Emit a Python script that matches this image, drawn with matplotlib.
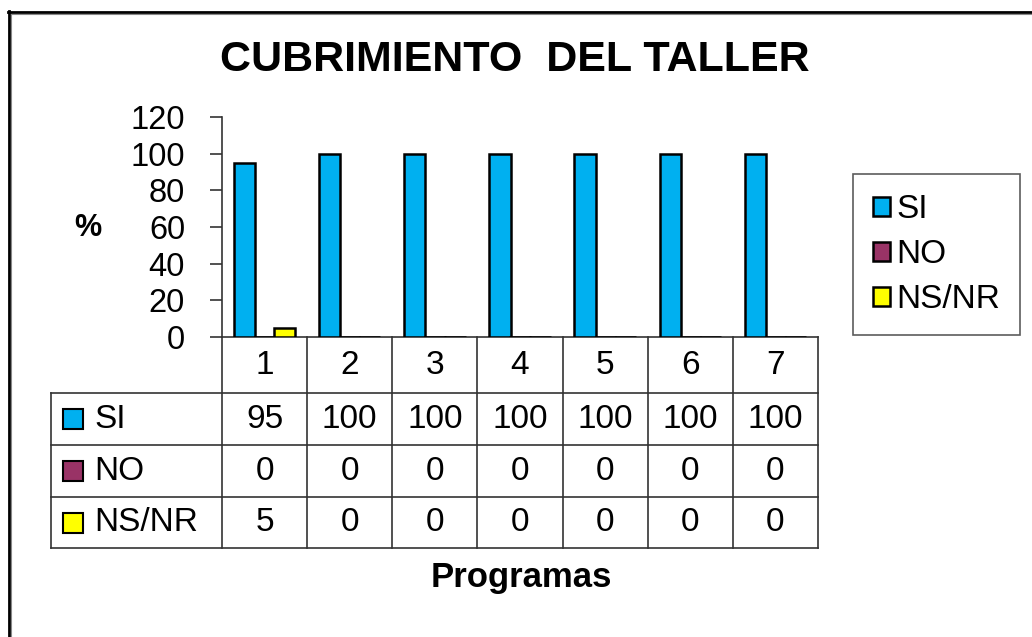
# %% import
import matplotlib.pyplot as plt
import numpy as np

plt.rcParams["font.family"] = ["Liberation Sans", "DejaVu Sans"]

# %% data
programas = ["1", "2", "3", "4", "5", "6", "7"]
series_names = ["SI", "NO", "NS/NR"]
si = [95, 100, 100, 100, 100, 100, 100]
no = [0, 0, 0, 0, 0, 0, 0]
nsnr = [5, 0, 0, 0, 0, 0, 0]
colores = ["#00B0F0", "#993366", "#FFFF00"]

# %% layout (pixels)
W, H = 1032, 637
ax_l, ax_r, ax_t, ax_b = 222, 818, 117, 337
tab_l = 51
row_edges = [337, 393, 445, 497, 548]
edge = "#333333"

fig = plt.figure(figsize=(W / 100, H / 100), dpi=100)
ax = fig.add_axes([ax_l / W, 1 - ax_b / H, (ax_r - ax_l) / W, (ax_b - ax_t) / H])

# %% bars
x = np.arange(len(programas))
valores = [si, no, nsnr]
offsets = [-0.235, 0, 0.235]
handles = []
for vals, off, col in zip(valores, offsets, colores):
    b = ax.bar(x + off, vals, width=0.25, color=col, edgecolor="black", linewidth=1.8, zorder=3)
    handles.append(b)

ax.set_xlim(-0.5, len(programas) - 0.5)
ax.set_ylim(0, 120)
ax.set_yticks(range(0, 121, 20))
ax.set_xticks([])
ax.tick_params(axis="y", direction="out", length=8.6, width=1.2, color=edge,
               labelsize=23.5, pad=18)
for s in ["top", "right"]:
    ax.spines[s].set_visible(False)
for s in ["left", "bottom"]:
    ax.spines[s].set_linewidth(1.2)
    ax.spines[s].set_color(edge)

# legend
leg = ax.legend(handles, series_names, loc="upper left",
                bbox_to_anchor=(853 / W, 1 - 174 / H), bbox_transform=fig.transFigure,
                fontsize=24, frameon=True, fancybox=False, edgecolor=edge,
                borderaxespad=0, borderpad=0.6, handlelength=0.5, handleheight=0.5,
                handletextpad=0.2, labelspacing=0.42)
leg.get_frame().set_linewidth(1.2)

# %% overlay: table, titles, border
ov = fig.add_axes([0, 0, 1, 1])
ov.set_xlim(0, W)
ov.set_ylim(H, 0)
ov.axis("off")

cw = (ax_r - ax_l) / len(programas)
col_edges = ax_l + cw * np.arange(len(programas) + 1)
centros = ax_l + cw * (x + 0.5)

for xe in col_edges:
    ov.plot([xe, xe], [row_edges[0], row_edges[-1]], color=edge, lw=1.2)
ov.plot([tab_l, tab_l], [row_edges[1], row_edges[-1]], color=edge, lw=1.2)
for ye in row_edges[1:]:
    ov.plot([tab_l, ax_r], [ye, ye], color=edge, lw=1.2)

# header row
for cx, p in zip(centros, programas):
    ov.text(cx, (row_edges[0] + row_edges[1]) / 2, p, ha="center", va="center", fontsize=24)

# data rows
for i, (nombre, vals, col) in enumerate(zip(series_names, valores, colores)):
    yc = (row_edges[i + 1] + row_edges[i + 2]) / 2
    ov.plot(73, yc, marker="s", markersize=14, markerfacecolor=col,
            markeredgecolor="black", markeredgewidth=1.5)
    ov.text(94, yc, nombre, ha="left", va="center", fontsize=24)
    for cx, v in zip(centros, vals):
        ov.text(cx, yc, str(v), ha="center", va="center", fontsize=24)

# titles
ov.text(515, 60, "CUBRIMIENTO  DEL TALLER", ha="center", va="center",
        fontsize=31, fontweight="bold")
ov.text(88, 228, "%", ha="center", va="center", fontsize=22, fontweight="bold")
ov.text(521, 577, "Programas", ha="center", va="center", fontsize=25, fontweight="bold")

# border
ov.plot([8.7, 8.7], [11, H], color="black", lw=2)
ov.plot([11.2, 11.2], [13, H], color="#888888", lw=0.8)
ov.plot([7.7, W], [11.8, 11.8], color="black", lw=2)
ov.plot([11, W], [13.8, 13.8], color="#888888", lw=0.8)

fig.savefig("out.png", dpi=100)
